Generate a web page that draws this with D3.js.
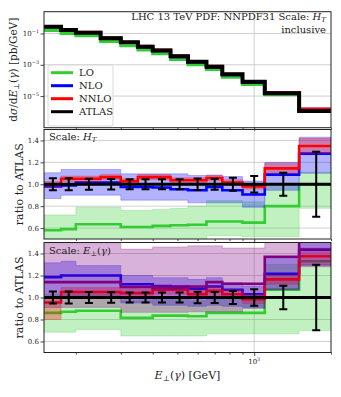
<!DOCTYPE html>
<html>
<head>
<meta charset="utf-8">
<script src="https://cdn.jsdelivr.net/npm/d3@7"></script>
<style>
  body { margin: 0; background: #fff; }
  svg { display: block; }
  text { font-family: "DejaVu Serif", serif; fill: #222; }
</style>
</head>
<body>
<div id="chart"></div>
<script>
"use strict"

// bin edges in E_T(gamma) [GeV]
const binEdges = [150, 175, 200, 250, 300, 350, 400, 470, 550, 650, 750, 900, 1100, 1500, 2000];

// top panel: dsigma/dE [pb/GeV]
const atlasXsec = [0.27, 0.166, 0.112, 0.049, 0.0272, 0.01426, 0.00815, 0.00347, 0.00157, 7.5e-4, 2.45e-4, 8.3e-5, 1.5e-5, 1.11e-6];
const loXsec    = [0.157, 0.098, 0.0711, 0.0311, 0.0166, 0.0087, 0.00505, 0.00217, 9.9e-4, 4.95e-4, 1.62e-4, 5.4e-5, 1.2e-5, 1.11e-6];
const nloXsec   = [0.265, 0.164, 0.1137, 0.0497, 0.0265, 0.0139, 0.0079, 0.00331, 0.00148, 7.3e-4, 2.32e-4, 7.5e-5, 1.63e-5, 1.42e-6];
const nnloXsec  = [0.27, 0.174, 0.1176, 0.0522, 0.0279, 0.0152, 0.00868, 0.0036, 0.00163, 7.9e-4, 2.49e-4, 8.1e-5, 1.72e-5, 1.5e-6];
const atlasRelErr = [0.055, 0.055, 0.05, 0.047, 0.045, 0.045, 0.045, 0.045, 0.053, 0.05, 0.06, 0.075, 0.106, 0.297];

// ratio panel, scale H_T
const loRatioHT   = [0.58, 0.59, 0.635, 0.635, 0.61, 0.61, 0.62, 0.625, 0.63, 0.66, 0.66, 0.65, 0.80, 1.0];
const loLowHT     = [0.46, 0.46, 0.47, 0.47, 0.47, 0.47, 0.47, 0.47, 0.47, 0.53, 0.53, 0.52, 0.52, 0.78];
const loHighHT    = [0.72, 0.72, 0.79, 0.79, 0.76, 0.76, 0.77, 0.78, 0.80, 0.85, 0.85, 0.84, 1.0, 1.11];
const nloRatioHT  = [0.98, 0.99, 1.015, 1.015, 0.975, 0.975, 0.97, 0.955, 0.945, 0.975, 0.945, 0.906, 1.088, 1.28];
const nloLowHT    = [0.87, 0.9, 0.9, 0.9, 0.855, 0.855, 0.855, 0.855, 0.83, 0.83, 0.83, 0.79, 0.945, 1.10];
const nloHighHT   = [1.105, 1.135, 1.135, 1.135, 1.095, 1.095, 1.095, 1.095, 1.08, 1.085, 1.07, 1.03, 1.20, 1.43];
const nnloRatioHT = [1.0, 1.05, 1.05, 1.065, 1.027, 1.065, 1.065, 1.036, 1.036, 1.057, 1.015, 0.98, 1.145, 1.35];
const nnloLowHT   = [0.975, 1.025, 1.025, 1.04, 1.0, 1.04, 1.04, 1.01, 1.01, 1.03, 0.99, 0.955, 1.10, 1.28];
const nnloHighHT  = [1.025, 1.075, 1.075, 1.09, 1.05, 1.09, 1.09, 1.06, 1.06, 1.08, 1.04, 1.005, 1.19, 1.42];

// ratio panel, scale E_T(gamma)
const loRatioET    = [0.86, 0.87, 0.88, 0.88, 0.815, 0.815, 0.835, 0.835, 0.83, 0.86, 0.86, 0.86, 1.07, 1.33];
const loLowET      = [0.685, 0.685, 0.71, 0.71, 0.65, 0.65, 0.65, 0.65, 0.65, 0.67, 0.67, 0.67, 0.67, 0.70];
const loHighET     = [1.03, 1.03, 1.03, 1.03, 0.97, 0.97, 0.98, 0.98, 0.97, 1.0, 1.0, 1.0, 1.3, 1.30];
const nloRatioET   = [1.185, 1.2, 1.2, 1.2, 1.12, 1.12, 1.105, 1.10, 1.08, 1.10, 1.07, 1.03, 1.215, 1.435];
const nloLowET     = [1.0, 1.0, 1.0, 1.0, 0.95, 0.95, 0.93, 0.93, 0.92, 0.93, 0.92, 0.91, 1.075, 1.29];
const nloHighET    = [1.315, 1.33, 1.29, 1.29, 1.2, 1.2, 1.18, 1.18, 1.165, 1.18, 1.135, 1.105, 1.36, 1.6];
const nnloRatioET  = [0.955, 1.05, 1.05, 1.05, 1.04, 1.04, 1.07, 1.07, 1.03, 1.06, 1.03, 0.985, 1.165, 1.375];
const nnloLowET    = [0.80, 1.01, 1.01, 1.01, 1.0, 1.0, 1.03, 1.03, 0.99, 1.02, 0.99, 0.945, 1.12, 1.30];
const nnloHighET   = [0.98, 1.09, 1.09, 1.09, 1.08, 1.08, 1.11, 1.11, 1.07, 1.10, 1.07, 1.025, 1.20, 1.45];
const extraRatioET = [1.14, 1.14, 1.14, 1.14, 1.095, 1.095, 1.085, 1.085, 1.10, 1.14, 1.125, 1.125, 1.37, 1.6];
const extraLowET   = [0.91, 0.91, 0.91, 0.91, 0.865, 0.865, 0.865, 0.865, 0.87, 0.87, 0.87, 0.9, 1.07, 1.28];
const extraHighET  = [1.49, 1.49, 1.49, 1.49, 1.44, 1.44, 1.46, 1.46, 1.47, 1.47, 1.45, 1.45, 1.6, 1.6];

const legendLabels = ["LO", "NLO", "NNLO", "ATLAS"];
const ratioTicks = [0.6, 0.8, 1.0, 1.2, 1.4];
const logTicks = [1e-1, 1e-3, 1e-5];
const minorX = [200, 300, 400, 500, 600, 700, 800, 900, 2000];

const colLO = "#33cc33", colNLO = "#0000ff", colNNLO = "#ff0000", colExtra = "#800080";

const width = 341, height = 397;
const left = 44, right = 331;

const svg = d3.select("#chart").append("svg")
              .attr("width", width)
              .attr("height", height);

const x = d3.scaleLog().domain([150, 2000]).range([left, right]);

const panels = [
  { top: 11.7, bottom: 127.7 },
  { top: 129.5, bottom: 239 },
  { top: 242.5, bottom: 352.5 }
];

const yTop = d3.scaleLog()
               .domain([Math.pow(10, -7.02), Math.pow(10, 0.39)])
               .range([panels[0].bottom, panels[0].top]);
const yR2 = d3.scaleLinear().domain([0.5, 1.5]).range([panels[1].bottom, panels[1].top]);
const yR3 = d3.scaleLinear().domain([0.5, 1.5]).range([panels[2].bottom, panels[2].top]);

function rich(sel, parts, size)
{
  let cur = 0;
  parts.forEach(function(p){
    let target = p.sub ? size * 0.22 : (p.sup ? -size * 0.42 : 0);
    let ts = sel.append("tspan").text(p.t).attr("dy", target - cur);
    cur = target;
    if (p.it) ts.attr("font-style", "italic");
    if (p.sub || p.sup) ts.attr("font-size", size * 0.7);
  });
}

function stepPoints(vals)
{
  return binEdges.map(function(e, i){
    return [e, vals[Math.min(i, vals.length - 1)]];
  });
}

function drawStep(g, vals, y, color, w)
{
  let line = d3.line()
               .curve(d3.curveStepAfter)
               .x(d => x(d[0]))
               .y(d => y(d[1]));
  g.append("path")
   .attr("d", line(stepPoints(vals)))
   .attr("fill", "none")
   .attr("stroke", color)
   .attr("stroke-width", w);
}

function drawBand(g, lo, hi, y, color, alpha)
{
  let pts = binEdges.map(function(e, i){
    let k = Math.min(i, lo.length - 1);
    return [e, lo[k], hi[k]];
  });
  let area = d3.area()
               .curve(d3.curveStepAfter)
               .x(d => x(d[0]))
               .y0(d => y(d[1]))
               .y1(d => y(d[2]));
  g.append("path")
   .attr("d", area(pts))
   .attr("fill", color)
   .attr("fill-opacity", alpha)
   .attr("stroke", color)
   .attr("stroke-opacity", alpha)
   .attr("stroke-width", 0.8);
}

function setupPanel(idx, y, ticks)
{
  let p = panels[idx];
  svg.append("clipPath").attr("id", "clip" + idx)
     .append("rect")
     .attr("x", left).attr("y", p.top)
     .attr("width", right - left).attr("height", p.bottom - p.top);

  let grid = svg.append("g");
  ticks.forEach(function(t){
    grid.append("line")
        .attr("x1", left).attr("x2", right)
        .attr("y1", y(t)).attr("y2", y(t))
        .attr("stroke", "#c4c4c4").attr("stroke-width", 0.8);
  });
  grid.append("line")
      .attr("x1", x(1000)).attr("x2", x(1000))
      .attr("y1", p.top).attr("y2", p.bottom)
      .attr("stroke", "#c4c4c4").attr("stroke-width", 0.8);

  let g = svg.append("g").attr("clip-path", "url(#clip" + idx + ")");
  return g;
}

function finishPanel(idx, y, ticks, logLabels)
{
  let p = panels[idx];
  // x ticks
  let axMinor = d3.axisBottom(x).tickValues(minorX).tickSize(2).tickFormat("");
  let axMajor = d3.axisBottom(x).tickValues([1000]).tickSize(3.5).tickFormat("");
  [axMinor, axMajor].forEach(function(ax){
    let a = svg.append("g").attr("transform", "translate(0," + p.bottom + ")").call(ax);
    a.select(".domain").remove();
    a.selectAll("line").attr("stroke", "#222").attr("stroke-width", 0.8);
  });
  // y ticks
  let ay = svg.append("g").attr("transform", "translate(" + left + ",0)")
              .call(d3.axisLeft(y).tickValues(ticks).tickSize(3.5).tickFormat(""));
  ay.select(".domain").remove();
  ay.selectAll("line").attr("stroke", "#222").attr("stroke-width", 0.8);
  ticks.forEach(function(t){
    let tx = svg.append("text")
                .attr("x", left - 5).attr("y", y(t) + 2.5)
                .attr("text-anchor", "end")
                .attr("font-size", 7);
    if (logLabels) {
      let ex = Math.round(Math.log10(t));
      rich(tx, [{ t: "10" }, { t: "\u2212" + Math.abs(ex), sup: true }], 7);
    } else {
      tx.text(t.toFixed(1));
    }
  });
  svg.append("rect")
     .attr("x", left).attr("y", p.top)
     .attr("width", right - left).attr("height", p.bottom - p.top)
     .attr("fill", "none").attr("stroke", "#222").attr("stroke-width", 1);
}

function drawAtlasRatio(g, y)
{
  g.append("line")
   .attr("x1", left).attr("x2", right)
   .attr("y1", y(1)).attr("y2", y(1))
   .attr("stroke", "#000").attr("stroke-width", 3);
  atlasRelErr.forEach(function(e, i){
    let cx = x((binEdges[i] + binEdges[i + 1]) / 2);
    g.append("line")
     .attr("x1", cx).attr("x2", cx)
     .attr("y1", y(1 - e)).attr("y2", y(1 + e))
     .attr("stroke", "#000").attr("stroke-width", 2);
    [1 - e, 1 + e].forEach(function(v){
      g.append("line")
       .attr("x1", cx - 4).attr("x2", cx + 4)
       .attr("y1", y(v)).attr("y2", y(v))
       .attr("stroke", "#000").attr("stroke-width", 2);
    });
  });
}

// ---- top panel
let g0 = setupPanel(0, yTop, logTicks);
drawStep(g0, loXsec, yTop, colLO, 3);
drawStep(g0, nloXsec, yTop, colNLO, 3);
drawStep(g0, nnloXsec, yTop, colNNLO, 3);
drawStep(g0, atlasXsec, yTop, "#000", 4);
finishPanel(0, yTop, logTicks, true);

// ---- ratio panel H_T
let g1 = setupPanel(1, yR2, ratioTicks);
drawBand(g1, loLowHT, loHighHT, yR2, colLO, 0.3);
drawStep(g1, loRatioHT, yR2, colLO, 2.6);
drawBand(g1, nloLowHT, nloHighHT, yR2, colNLO, 0.3);
drawStep(g1, nloRatioHT, yR2, colNLO, 2.6);
drawBand(g1, nnloLowHT, nnloHighHT, yR2, colNNLO, 0.3);
drawStep(g1, nnloRatioHT, yR2, colNNLO, 2.6);
drawAtlasRatio(g1, yR2);
finishPanel(1, yR2, ratioTicks, false);

// ---- ratio panel E_T
let g2 = setupPanel(2, yR3, ratioTicks);
drawBand(g2, loLowET, loHighET, yR3, colLO, 0.3);
drawStep(g2, loRatioET, yR3, colLO, 2.6);
drawBand(g2, nloLowET, nloHighET, yR3, colNLO, 0.3);
drawStep(g2, nloRatioET, yR3, colNLO, 2.6);
drawBand(g2, nnloLowET, nnloHighET, yR3, colNNLO, 0.3);
drawStep(g2, nnloRatioET, yR3, colNNLO, 2.6);
drawBand(g2, extraLowET, extraHighET, yR3, colExtra, 0.3);
drawStep(g2, extraRatioET, yR3, colExtra, 2.6);
drawAtlasRatio(g2, yR3);
finishPanel(2, yR3, ratioTicks, false);

// ---- texts
let title = svg.append("text").attr("x", 326).attr("y", 20)
               .attr("text-anchor", "end").attr("font-size", 10);
rich(title, [{ t: "LHC 13 TeV PDF: NNPDF31 Scale: " }, { t: "H", it: true }, { t: "T", it: true, sub: true }], 10);
svg.append("text").attr("x", 326).attr("y", 33)
   .attr("text-anchor", "end").attr("font-size", 10).text("inclusive");

let s1 = svg.append("text").attr("x", 49).attr("y", 140).attr("font-size", 10);
rich(s1, [{ t: "Scale: " }, { t: "H", it: true }, { t: "T", it: true, sub: true }], 10);
let s2 = svg.append("text").attr("x", 49).attr("y", 254).attr("font-size", 10);
rich(s2, [{ t: "Scale: " }, { t: "E", it: true }, { t: "\u22a5", sub: true }, { t: "(" }, { t: "\u03b3", it: true }, { t: ")" }], 10);

// legend
let leg = svg.append("g");
leg.append("rect")
   .attr("x", 48).attr("y", 65).attr("width", 65).attr("height", 61).attr("rx", 2)
   .attr("fill", "#fff").attr("fill-opacity", 0.8)
   .attr("stroke", "#d0d0d0").attr("stroke-width", 0.8);
[colLO, colNLO, colNNLO, "#000"].forEach(function(c, i){
  let yy = 72.7 + 13 * i;
  leg.append("line").attr("x1", 51).attr("x2", 73).attr("y1", yy).attr("y2", yy)
     .attr("stroke", c).attr("stroke-width", 3);
  leg.append("text").attr("x", 79).attr("y", yy + 3.5).attr("font-size", 10).text(legendLabels[i]);
});

// axis labels
let xl = svg.append("text").attr("x", 187.5).attr("y", 379)
            .attr("text-anchor", "middle").attr("font-size", 11);
rich(xl, [{ t: "E", it: true }, { t: "\u22a5", sub: true }, { t: "(" }, { t: "\u03b3", it: true }, { t: ") [GeV]" }], 11);

let xt = svg.append("text").attr("x", x(1000)).attr("y", 364)
            .attr("text-anchor", "middle").attr("font-size", 7);
rich(xt, [{ t: "10" }, { t: "3", sup: true }], 7);

let yl0 = svg.append("text").attr("transform", "translate(17," + ((panels[0].top + panels[0].bottom) / 2) + ") rotate(-90)")
             .attr("text-anchor", "middle").attr("font-size", 10.5);
rich(yl0, [{ t: "d" }, { t: "\u03c3", it: true }, { t: "/d" }, { t: "E", it: true }, { t: "\u22a5", sub: true }, { t: "(" }, { t: "\u03b3", it: true }, { t: ") [pb/GeV]" }], 10.5);

[1, 2].forEach(function(k){
  svg.append("text")
     .attr("transform", "translate(23," + ((panels[k].top + panels[k].bottom) / 2) + ") rotate(-90)")
     .attr("text-anchor", "middle").attr("font-size", 11)
     .text("ratio to ATLAS");
});
</script>
</body>
</html>
